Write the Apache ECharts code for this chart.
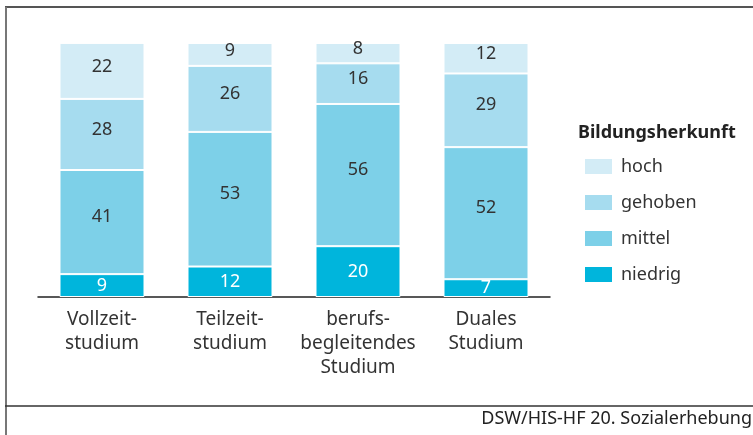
<!DOCTYPE html>
<html><head><meta charset="utf-8">
<script src="https://cdn.jsdelivr.net/npm/echarts@6/dist/echarts.min.js"></script>
<style>html,body{margin:0;padding:0;background:#fff}#c{width:753px;height:435px}</style>
</head><body><div id="c"></div>
<script>
const categories = ['Vollzeit-\nstudium', 'Teilzeit-\nstudium', 'berufs-\nbegleitendes\nStudium', 'Duales\nStudium'];
const niedrig = [9, 12, 20, 7];
const mittel = [41, 53, 56, 52];
const gehoben = [28, 26, 16, 29];
const hoch = [22, 9, 8, 12];
const seriesNames = ['hoch', 'gehoben', 'mittel', 'niedrig'];
const legendTitle = 'Bildungsherkunft';
const sourceText = 'DSW/HIS-HF 20. Sozialerhebung';

const FONT = 'Noto Sans';
const colors = {hoch:'#d3ecf6', gehoben:'#a6dcef', mittel:'#7dd0e8', niedrig:'#00b5dc'};

function mk(name, data, labelColor, offY) {
  return {
    name, type:'bar', stack:'s', data, barWidth:85,
    itemStyle:{color:colors[name], borderColor:'#fff', borderWidth:1},
    label:{show:true, position:'inside', color:labelColor, fontFamily:FONT, fontSize:18, offset:[0,offY]},
    emphasis:{disabled:true}
  };
}

const chart = echarts.init(document.getElementById('c'), null, {renderer:'canvas'});
chart.setOption({
  animation:false,
  grid:{left:38, top:43, width:512, height:254, containLabel:false},
  xAxis:{type:'category', data:categories,
    axisLine:{lineStyle:{color:'#222', width:1.5}}, axisTick:{show:false},
    axisLabel:{interval:0, color:'#333', fontFamily:FONT, fontSize:19, lineHeight:24, margin:11}},
  yAxis:{type:'value', min:0, max:100, show:false},
  legend:{orient:'vertical', left:583, top:157, padding:0, itemWidth:29, itemHeight:17, itemGap:17,
    data:seriesNames, icon:'rect',
    textStyle:{color:'#333', fontFamily:FONT, fontSize:18, lineHeight:17, padding:[0,0,0,3]}},
  series:[
    mk('niedrig', niedrig, '#fff', 0),
    mk('mittel', mittel, '#333', -5),
    mk('gehoben', gehoben, '#333', -5),
    mk('hoch', hoch, '#333', -4)
  ],
  graphic:[
    {type:'text', left:578, top:124, style:{text:legendTitle, fill:'#222', font:'bold 18px "Noto Sans"'}},
    {type:'line', shape:{x1:5, y1:7, x2:753, y2:7}, style:{stroke:'#555', lineWidth:2}},
    {type:'line', shape:{x1:6, y1:7, x2:6, y2:435}, style:{stroke:'#777', lineWidth:2}},
    {type:'line', shape:{x1:5, y1:406, x2:753, y2:406}, style:{stroke:'#333', lineWidth:1.5}},
    {type:'text', right:1, top:410, style:{text:sourceText, fill:'#222', font:'18px "Noto Sans"'}}
  ]
});
</script></body></html>
